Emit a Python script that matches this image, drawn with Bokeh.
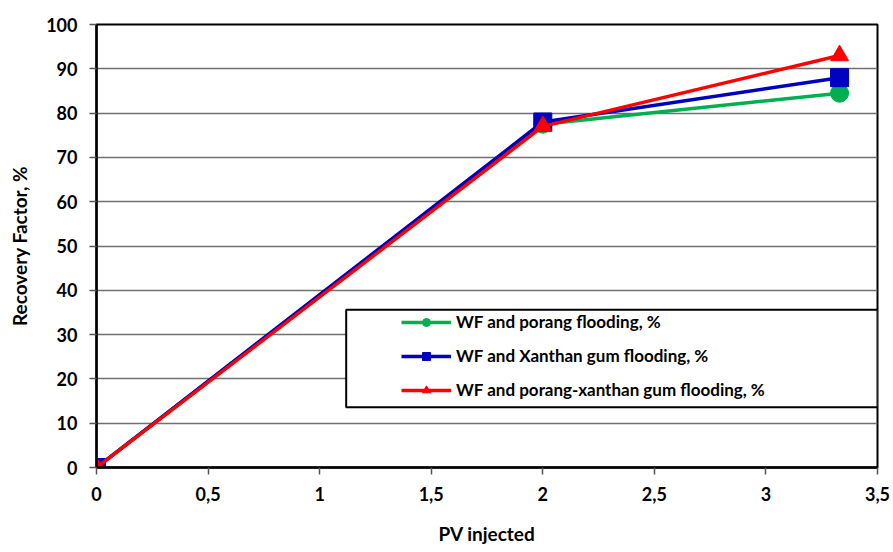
from bokeh.plotting import figure
from bokeh.models import (FixedTicker, CustomJSTickFormatter, Legend, LegendItem,
                          BoxAnnotation, ColumnDataSource, Range1d)
from bokeh.embed import file_html
from bokeh.resources import INLINE

# ---- data ----
pv_injected = [0, 2, 3.33]
porang = [0, 77.5, 84.5]
xanthan = [0, 78.0, 88.0]
porang_xanthan = [0, 77.0, 93.0]
x_ticks = [0, 0.5, 1, 1.5, 2, 2.5, 3, 3.5]
y_ticks = [0, 10, 20, 30, 40, 50, 60, 70, 80, 90, 100]
series_names = ["WF and porang flooding, %",
                "WF and Xanthan gum flooding, %",
                "WF and porang-xanthan gum flooding, %"]

FONT = "Lato"
GREEN = "#00b050"
BLUE = "#0000c0"
RED = "#ff0000"

p = figure(width=891, height=547, output_backend="svg", toolbar_location=None,
           x_range=Range1d(0, 3.5), y_range=Range1d(0, 100),
           min_border_left=96, min_border_right=14, min_border_top=24,
           min_border_bottom=76)

p.background_fill_color = "white"
p.outline_line_color = "black"
p.outline_line_width = 2
p.xgrid.grid_line_color = None
p.ygrid.grid_line_color = "#707070"
p.ygrid.grid_line_width = 1.5
p.ygrid.ticker = FixedTicker(ticks=y_ticks)

for ax in (p.xaxis[0], p.yaxis[0]):
    ax.axis_line_color = "black"
    ax.axis_line_width = 2.5
    ax.major_tick_line_color = "#555555"
    ax.major_tick_line_width = 1.5
    ax.major_tick_out = 7
    ax.major_tick_in = 0
    ax.minor_tick_line_color = None
    ax.major_label_text_font = FONT
    ax.major_label_text_font_style = "bold"
    ax.major_label_text_font_size = "18px"
    ax.major_label_text_color = "black"
    ax.axis_label_text_font = FONT
    ax.axis_label_text_font_style = "bold"
    ax.axis_label_text_font_size = "19px"
    ax.axis_label_text_color = "black"

p.xaxis.ticker = FixedTicker(ticks=x_ticks)
p.yaxis.ticker = FixedTicker(ticks=y_ticks)
p.xaxis.formatter = CustomJSTickFormatter(code="return tick.toString().replace('.', ',');")
p.xaxis.major_label_standoff = 12
p.yaxis.major_label_standoff = 12
p.xaxis.axis_label = "PV injected"
p.yaxis.axis_label = "Recovery Factor, %"
p.xaxis.axis_label_standoff = 18
p.yaxis.axis_label_standoff = 12

src = ColumnDataSource(dict(x=pv_injected, g=porang, b=xanthan, r=porang_xanthan))

p.line("x", "g", source=src, line_color=GREEN, line_width=3.5)
p.scatter("x", "g", source=src, marker="circle", size=18, fill_color=GREEN, line_color=GREEN)
p.line("x", "b", source=src, line_color=BLUE, line_width=3.5)
p.scatter("x", "b", source=src, marker="square", size=18, fill_color=BLUE, line_color=BLUE)
p.line("x", "r", source=src, line_color=RED, line_width=3.5)
p.scatter("x", "r", source=src, marker="triangle", size=18, fill_color=RED, line_color=RED)

# legend box (frame)
box = BoxAnnotation(left=1.119, right=3.5, bottom=13.6, top=35.6,
                    fill_color="white", fill_alpha=1.0,
                    line_color="black", line_alpha=1.0, line_width=2)
p.add_layout(box)

# legend entries drawn with smaller markers via placeholder renderers (no visible data)
nan = float("nan")
placeholder = ColumnDataSource(dict(x=[nan], y=[nan]))
items = []
for name, col, mk in zip(series_names, [GREEN, BLUE, RED], ["circle", "square", "triangle"]):
    lr = p.line("x", "y", source=placeholder, line_color=col, line_width=3.5)
    sr = p.scatter("x", "y", source=placeholder, marker=mk, size=11, fill_color=col, line_color=col)
    items.append(LegendItem(label=name, renderers=[lr, sr]))

legend = Legend(items=items, location=(305, 67), padding=0, margin=0, spacing=13,
                glyph_width=50, glyph_height=20, label_height=20, label_standoff=5,
                background_fill_alpha=0, border_line_alpha=0,
                label_text_font=FONT, label_text_font_style="bold",
                label_text_font_size="17px", label_text_color="black")
p.add_layout(legend)

open("out.html", "w").write(file_html(p, INLINE))
